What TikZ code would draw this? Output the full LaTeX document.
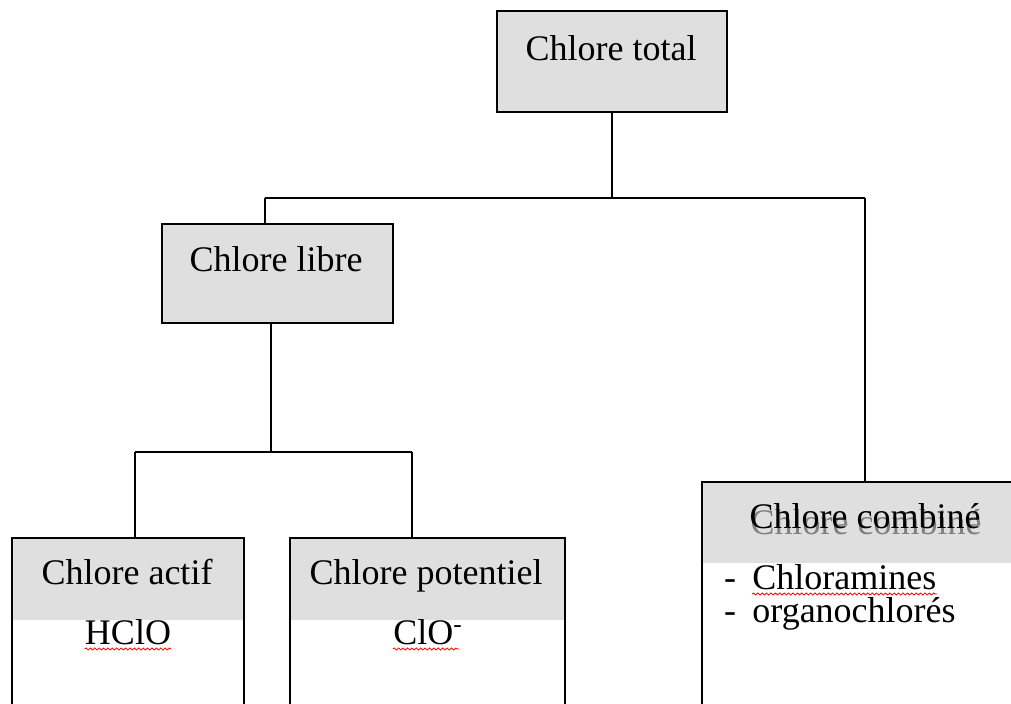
\documentclass[tikz,border=0pt]{standalone}
\usepackage{fontspec}
\setmainfont{Liberation Serif}
\usetikzlibrary{decorations.pathmorphing}
\definecolor{boxgray}{RGB}{223,223,223}

\tikzset{
  box/.style={draw, fill=boxgray, line width=0.9pt, anchor=north west, inner sep=0pt},
  head/.style={fill=boxgray, anchor=north west, inner sep=0pt},
  frame/.style={line width=0.9pt},
  link/.style={line width=0.9pt},
  lbl/.style={font=\fontsize{18}{22}\selectfont, inner sep=0pt, anchor=base},
  spell/.style={red, line width=0.4pt, decorate,
    decoration={snake, amplitude=0.5pt, segment length=2.2pt}}
}

\begin{document}
\begin{tikzpicture}[x=0.5pt,y=-0.5pt]
\clip (0,0) rectangle (1011,704);
\coordinate (bottom) at (0,740);
\coordinate (right) at (1040,0);

% top level
\node[box, minimum width=115pt, minimum height=50.5pt] (total) at (496,10) {};
\node[lbl] (totaltxt) at (611,61) {Chlore total};

% chlore libre
\node[box, minimum width=115.5pt, minimum height=49.5pt] (libre) at (161,223) {};
\node[lbl] (libretxt) at (276,272) {Chlore libre};

% chlore actif
\node[head, minimum width=115.5pt, minimum height=41pt] (actif) at (12,538) {};
\draw[frame] (actif.north west) rectangle (actif.east |- bottom);
\node[lbl] (actiftxt) at (127,585) {Chlore actif};
\node[lbl] (hclo) at (128,645) {HClO};
\draw[spell] ([yshift=-2pt]hclo.base west) -- ([yshift=-2pt]hclo.base east);

% chlore potentiel
\node[head, minimum width=137pt, minimum height=41pt] (potentiel) at (290,538) {};
\draw[frame] (potentiel.north west) rectangle (potentiel.east |- bottom);
\node[lbl] (potentieltxt) at (426,585) {Chlore potentiel};
\node[lbl] (clo) at (428,645) {ClO\textsuperscript{-}};
\draw[spell] ([yshift=-2pt]clo.base west) -- ([yshift=-2pt,xshift=-2pt]clo.base east);

% chlore combine
\node[head, minimum width=169pt, minimum height=40.5pt] (combine) at (702,482) {};
\draw[frame] (combine.south west |- bottom) -- (combine.north west) -- (right |- combine.north);
\node[lbl, text=black!50] (shadow) at (866,535) {Chlore combiné};
\node[lbl] (combinetxt) at (865,529) {Chlore combiné};
\node[lbl] (dash1) at (730,589) {-};
\node[lbl, anchor=base west] (chloramines) at (752,589) {Chloramines};
\node[lbl] (dash2) at (730,623) {-};
\node[lbl, anchor=base west] (organo) at (752,623) {organochlorés};
\draw[spell] ([yshift=-2.5pt]chloramines.base west) -- ([yshift=-2.5pt]chloramines.base east);

% connectors
\coordinate (j1) at (611,198);
\coordinate (j1l) at (265,198);
\coordinate (j1r) at (865,198);
\draw[link] (total.south) -- (total.south |- j1);
\draw[link] (j1l) -- (j1r);
\draw[link] (j1l) -- (j1l |- libre.north);
\draw[link] (j1r) -- (j1r |- combine.north);

\coordinate (j2) at (271,452);
\coordinate (j2l) at (135,452);
\coordinate (j2r) at (412,452);
\draw[link] (j2 |- libre.south) -- (j2);
\draw[link] (j2l) -- (j2r);
\draw[link] (j2l) -- (j2l |- actif.north);
\draw[link] (j2r) -- (j2r |- potentiel.north);
\end{tikzpicture}
\end{document}
